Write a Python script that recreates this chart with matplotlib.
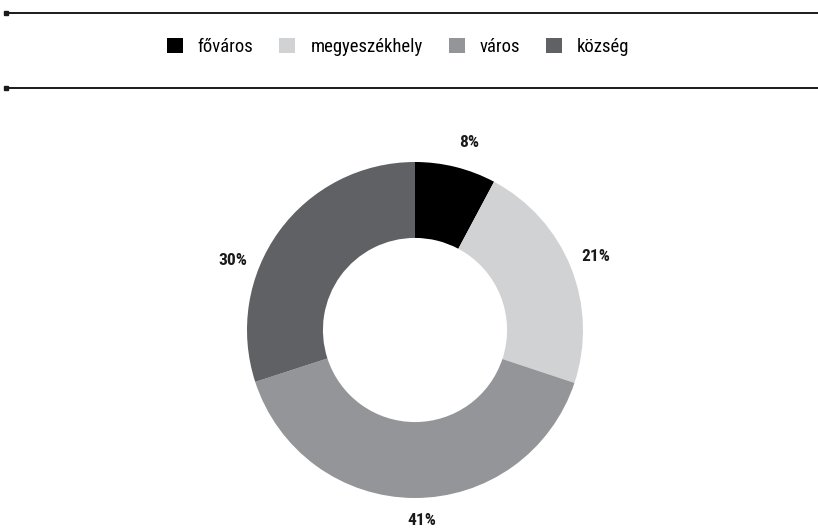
import matplotlib
matplotlib.use('Agg')
import numpy as np
import matplotlib.pyplot as plt
from matplotlib.patches import Patch
from matplotlib.lines import Line2D

plt.rcParams['font.family'] = ['Roboto Condensed', 'DejaVu Sans']

# data (wedge sizes as drawn; printed labels as shown)
categories = ['főváros', 'megyeszékhely', 'város', 'község']
shares = [7.8, 22.3, 39.9, 30.0]
labels = ['8%', '21%', '41%', '30%']
colors = ['#000000', '#d1d2d4', '#939598', '#606165']

# label placement (degrees clockwise from top, radius in pie units)
label_angles = [16, 68, 178, 291]
label_radii = [1.16, 1.16, 1.135, 1.16]

fig = plt.figure(figsize=(8.18, 5.3), dpi=100)

ax = fig.add_axes([0.0, 0.0, 1.0, 1.0])
ax.set_aspect('equal')
wedges, _ = ax.pie(shares, colors=colors, startangle=90, counterclock=False,
                   radius=1.0, wedgeprops=dict(width=0.452, linewidth=0))
for lab, a, r in zip(labels, label_angles, label_radii):
    t = np.deg2rad(a)
    ax.text(r * np.sin(t), r * np.cos(t), lab, ha='center', va='center',
            fontsize=12.5, fontweight='bold', color='#1a1a1a')

# pie centre at (415, 330) px, outer radius 168 px
r_px = 168
cx, cy = 415, 530 - 330
w, h = 818, 530
ax.set_xlim(-cx / r_px, (w - cx) / r_px)
ax.set_ylim(-cy / r_px, (h - cy) / r_px)
ax.axis('off')

# separator lines with small square end markers
for yy in [1 - 13 / 530, 1 - 88 / 530]:
    fig.add_artist(Line2D([6 / 818, 1.0], [yy, yy], color='#1a1a1a', linewidth=1.4,
                          transform=fig.transFigure))
    fig.add_artist(Line2D([6 / 818], [yy], marker='s', markersize=3.5, color='#1a1a1a',
                          linewidth=0, transform=fig.transFigure))

handles = [Patch(facecolor=c, edgecolor='none') for c in colors]
fig.legend(handles, categories, loc='center', bbox_to_anchor=(398 / 818, 1 - 47 / 530),
           ncol=4, frameon=False, fontsize=13.4, handlelength=0.86, handleheight=0.86,
           handletextpad=0.8, columnspacing=1.4)

fig.savefig('out.png', dpi=100)
